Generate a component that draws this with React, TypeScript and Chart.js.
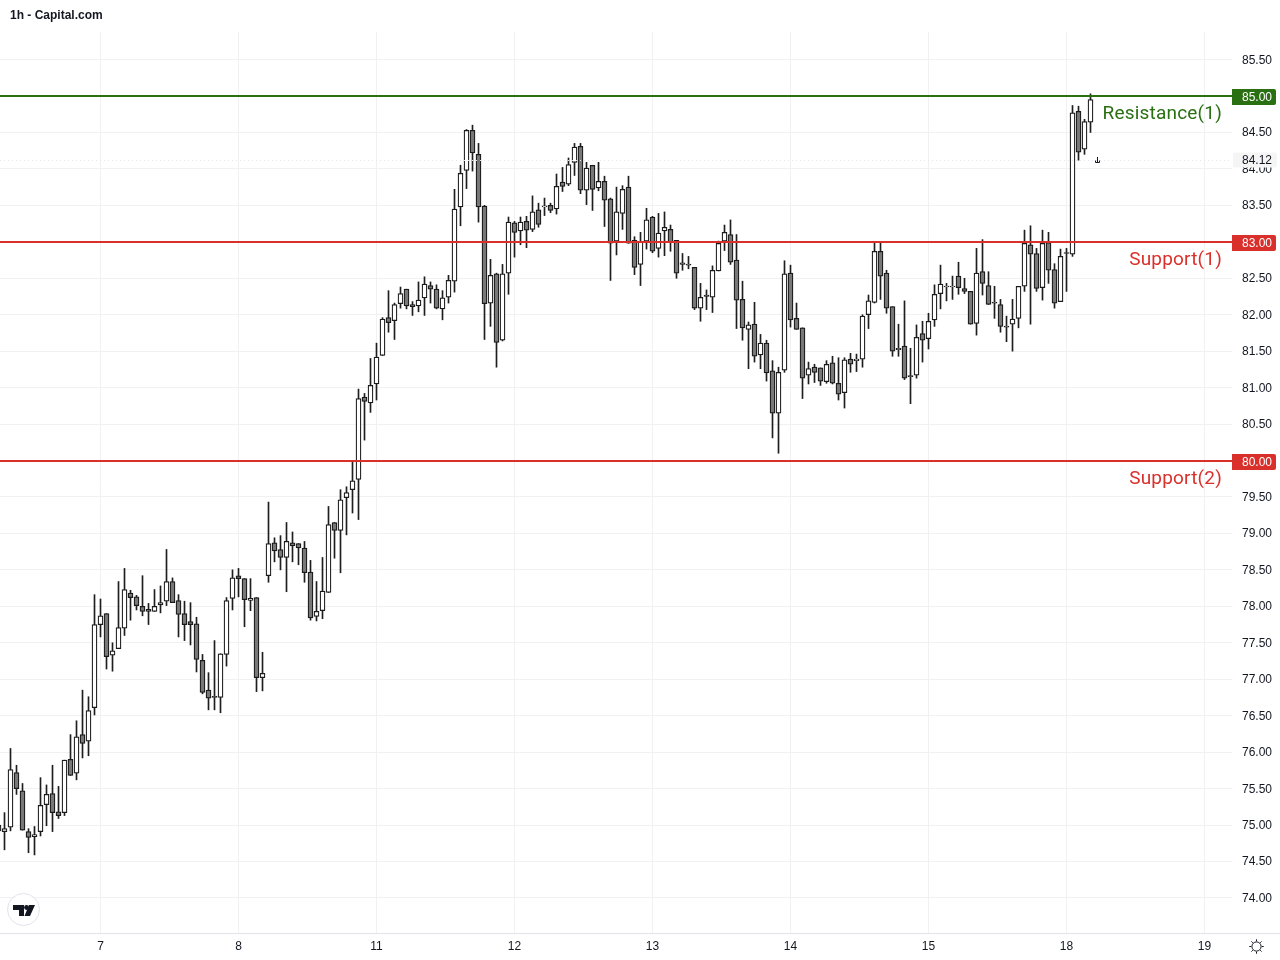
import React, { useEffect, useRef } from "react";
import { Chart, registerables } from "chart.js";

Chart.register(...registerables);

const chartTitle = "1h - Capital.com";
const firstCandle = -1;

const opens = [
  74.92,74.91,74.97,75.72,75.47,74.91,74.84,74.91,75.28,75.43,
  75.18,75.17,75.90,75.71,76.24,76.15,76.61,77.75,77.90,77.33,
  77.42,77.70,78.18,78.13,78.00,77.96,77.93,78.02,78.07,78.34,
  78.08,77.90,77.79,77.76,77.26,76.85,76.76,76.75,77.34,78.11,
  78.42,78.38,78.08,78.12,77.02,78.42,78.87,78.78,78.67,78.87,
  78.86,78.80,78.47,77.86,77.94,78.19,79.15,79.04,79.49,79.60,
  79.74,80.87,80.79,81.05,81.44,81.96,81.92,82.15,82.35,82.14,
  82.12,82.23,82.40,82.35,82.08,82.24,82.46,83.48,83.98,84.53,
  84.20,83.49,82.16,82.56,81.65,82.57,83.26,83.15,83.28,83.17,
  83.44,83.48,83.50,83.45,83.82,83.79,84.09,84.31,83.71,84.05,
  83.74,83.83,83.59,83.01,83.39,83.75,83.02,82.69,83.01,83.34,
  82.91,83.15,83.17,83.02,82.71,82.69,82.65,82.09,82.27,82.24,
  82.60,83.01,83.10,82.75,82.21,81.80,81.87,81.45,81.61,81.23,
  80.65,81.24,82.57,81.95,81.82,81.17,81.28,81.27,81.08,81.34,
  81.06,80.93,81.39,81.37,81.39,82.00,82.17,82.87,82.57,82.11,
  81.52,81.57,81.16,81.17,81.74,81.67,81.93,82.29,82.38,82.38,
  82.53,82.36,82.32,81.88,82.59,82.40,82.17,82.14,81.84,81.87,
  81.95,82.39,82.96,82.84,82.37,82.99,82.62,82.18,82.85,82.83,
  84.79,84.27,84.64,
];

const closes = [
  75.00,74.95,75.76,75.50,74.93,74.83,74.87,75.27,75.42,75.17,
  75.13,75.89,75.68,76.21,76.12,76.57,77.75,77.87,77.31,77.39,
  77.71,78.23,78.12,78.01,77.93,77.93,78.00,78.05,78.34,78.05,
  77.89,77.75,77.75,77.27,76.82,76.74,76.75,77.35,78.08,78.39,
  78.38,78.09,78.11,77.02,77.08,78.86,78.76,78.67,78.89,78.83,
  78.80,78.46,77.84,77.93,78.21,79.12,79.04,79.46,79.56,79.72,
  80.85,80.81,81.03,81.42,81.94,81.89,82.14,82.29,82.12,82.11,
  82.20,82.42,82.35,82.09,82.23,82.47,83.45,83.94,84.53,84.22,
  83.48,82.15,82.54,81.62,82.56,83.27,83.13,83.27,83.16,83.41,
  83.24,83.49,83.43,83.76,83.76,84.06,84.30,83.71,84.01,83.72,
  83.83,83.57,82.98,83.41,83.72,82.98,82.65,83.00,83.30,82.87,
  83.12,83.20,83.00,82.57,82.69,82.68,82.09,82.24,82.25,82.61,
  82.98,83.13,82.72,82.20,81.82,81.86,81.43,81.61,81.20,80.65,
  81.21,82.56,81.93,81.80,81.13,81.26,81.21,81.09,81.32,81.06,
  80.91,81.38,81.32,81.39,81.98,82.19,82.87,82.53,82.09,81.50,
  81.54,81.13,81.15,81.69,81.65,81.91,82.28,82.42,82.39,82.39,
  82.37,82.32,81.87,82.57,82.43,82.14,82.16,81.84,81.83,81.94,
  82.39,82.98,82.83,82.36,82.98,82.61,82.16,82.80,82.84,84.77,
  84.23,84.65,84.95,
];

const highs = [
  75.07,75.17,76.05,75.82,75.57,74.95,74.98,75.65,75.55,75.82,
  75.53,75.89,76.24,76.43,76.85,76.76,78.16,78.10,77.90,77.50,
  78.34,78.52,78.22,78.15,78.42,78.04,78.23,78.28,78.78,78.39,
  78.16,78.07,78.05,77.85,77.34,77.09,77.53,77.35,78.12,78.50,
  78.52,78.38,78.38,78.12,77.37,79.43,78.94,78.97,79.15,79.02,
  78.86,78.89,78.63,78.34,78.67,79.37,79.15,79.60,79.64,79.99,
  80.98,80.92,81.40,81.61,81.96,82.33,82.16,82.38,82.35,82.18,
  82.45,82.52,82.45,82.41,82.33,82.54,83.72,84.05,84.54,84.60,
  84.35,83.50,82.76,82.57,82.69,83.34,83.28,83.34,83.35,83.63,
  83.53,83.60,83.53,83.93,84.02,84.15,84.35,84.35,84.09,84.05,
  84.09,83.90,83.60,83.75,83.77,83.90,83.07,83.13,83.46,83.35,
  83.39,83.41,83.23,83.02,82.84,82.80,82.65,82.43,82.34,82.67,
  83.01,83.23,83.30,83.10,82.46,81.90,82.17,81.73,81.65,81.37,
  81.28,82.74,82.68,82.16,81.82,81.35,81.32,81.27,81.37,81.43,
  81.41,81.41,81.47,81.46,82.00,82.27,83.00,83.00,82.61,82.11,
  81.87,82.19,81.54,81.86,81.91,82.02,82.41,82.68,82.43,82.53,
  82.72,82.50,82.32,82.91,83.03,82.59,82.39,82.21,81.98,82.21,
  82.39,83.16,83.22,82.91,83.16,83.13,82.70,82.90,82.91,84.87,
  84.86,84.68,85.03,
];

const lows = [
  74.88,74.66,74.92,75.42,74.93,74.62,74.59,74.85,74.99,74.91,
  75.09,75.13,75.68,75.62,75.92,75.95,76.51,77.58,77.14,77.11,
  77.42,77.60,77.81,77.95,77.87,77.75,77.93,77.91,78.01,78.05,
  77.58,77.53,77.47,77.10,76.80,76.58,76.58,76.54,77.18,77.95,
  78.13,77.72,77.94,76.83,76.84,78.33,78.61,78.50,78.20,78.61,
  78.57,78.33,77.81,77.80,77.83,78.19,78.66,78.46,78.98,79.28,
  79.19,80.28,80.66,80.83,81.44,81.76,81.66,82.09,82.08,81.99,
  82.04,81.99,82.16,82.08,81.93,82.16,82.31,83.22,83.73,83.97,
  83.27,81.66,81.84,81.28,81.64,82.28,82.79,82.96,82.92,83.14,
  83.20,83.36,83.40,83.38,83.69,83.77,83.91,83.66,83.51,83.43,
  83.70,83.21,82.47,82.82,83.17,82.98,82.55,82.40,82.90,82.85,
  82.79,82.81,82.87,82.50,82.61,82.63,82.07,81.91,82.07,82.03,
  82.60,82.88,82.69,81.81,81.65,81.26,81.35,81.26,81.09,80.31,
  80.10,81.21,81.83,81.80,80.85,81.05,81.07,81.03,81.06,81.05,
  80.83,80.72,81.21,81.22,81.28,81.81,82.16,82.21,82.02,81.43,
  81.43,81.11,80.78,81.13,81.35,81.53,81.84,82.08,82.19,82.21,
  82.28,82.29,81.87,81.72,82.27,82.14,81.95,81.76,81.63,81.50,
  81.82,82.32,81.87,82.32,82.20,82.43,82.09,82.18,82.32,82.80,
  84.12,84.20,84.50,
];

const priceTicks = [74,74.5,75,75.5,76,76.5,77,77.5,78,78.5,79,79.5,80,80.5,81,81.5,82,82.5,83,83.5,84,84.5,85,85.5];
const dayTickCandles = [16,39,62,85,108,131,154,177,200];
const dayTickLabels = ["7","8","11","12","13","14","15","18","19"];

const levelNames = ["Resistance(1)","Support(1)","Support(2)"];
const levelValues = [85,83,80];
const levelColors = ["#2a6f12","#d9302c","#d9302c"];
const lastPrice = 84.12;

const UI_FONT = '"Liberation Sans", Arial, sans-serif';
const INK = "#131722";
const GRID = "#f1f1f2";

const overlay = {
  id: "overlay",
  afterDatasetsDraw(chart: any) {
    const { ctx, chartArea: a, scales } = chart;
    const y = scales.y;
    ctx.save();

    // price axis labels, from the scale's own ticks
    ctx.fillStyle = INK;
    ctx.font = `12px ${UI_FONT}`;
    ctx.textBaseline = "middle";
    ctx.textAlign = "left";
    y.ticks.forEach((t: any) => {
      ctx.fillText(Number(t.value).toFixed(2), 1242, Math.round(y.getPixelForValue(t.value)) + 1);
    });

    // last price dotted line
    const ly = Math.round(y.getPixelForValue(lastPrice)) + 0.5;
    ctx.strokeStyle = "#e4e6ea";
    ctx.setLineDash([1, 3]);
    ctx.lineWidth = 1;
    ctx.beginPath();
    ctx.moveTo(0, ly);
    ctx.lineTo(a.right, ly);
    ctx.stroke();
    ctx.setLineDash([]);

    // small marker after the last bar
    const mx = scales.x.getPixelForValue(182);
    ctx.strokeStyle = INK;
    ctx.beginPath();
    ctx.moveTo(Math.round(mx) + 0.5, ly - 3.5);
    ctx.lineTo(Math.round(mx) + 0.5, ly + 2);
    ctx.moveTo(Math.round(mx) - 1.5, ly);
    ctx.lineTo(Math.round(mx) - 1.5, ly + 2);
    ctx.lineTo(Math.round(mx) + 2.5, ly + 2);
    ctx.lineTo(Math.round(mx) + 2.5, ly);
    ctx.stroke();

    // level lines
    levelValues.forEach((v, i) => {
      const py = Math.round(y.getPixelForValue(v));
      ctx.fillStyle = levelColors[i];
      ctx.fillRect(0, py - 1, a.right, 2);
    });

    // last price tag
    ctx.fillStyle = "#f5f5f5";
    ctx.beginPath();
    ctx.roundRect(a.right + 1, ly - 8, 44, 15, 2);
    ctx.fill();
    ctx.fillStyle = INK;
    ctx.font = `12px ${UI_FONT}`;
    ctx.textAlign = "left";
    ctx.fillText(lastPrice.toFixed(2), 1242, ly + 0.5);

    // level tags and names
    levelValues.forEach((v, i) => {
      const py = Math.round(y.getPixelForValue(v));
      ctx.fillStyle = levelColors[i];
      ctx.beginPath();
      ctx.roundRect(a.right, py - 7, 44, 16, [0, 2, 2, 0]);
      ctx.fill();
      ctx.fillStyle = "#ffffff";
      ctx.font = `12px ${UI_FONT}`;
      ctx.textAlign = "left";
      ctx.fillText(v.toFixed(2), 1242, py + 1.5);
      ctx.fillStyle = levelColors[i];
      ctx.font = `19px Roboto, sans-serif`;
      (ctx as any).letterSpacing = "0.2px";
      ctx.textAlign = "right";
      ctx.fillText(levelNames[i], 1222, py + 18.5);
      (ctx as any).letterSpacing = "0px";
    });

    // title
    ctx.fillStyle = INK;
    ctx.font = `bold 12px ${UI_FONT}`;
    ctx.textAlign = "left";
    ctx.fillText(chartTitle, 10, 15.5);

    // bottom axis rule
    ctx.fillStyle = "#e0e3eb";
    ctx.fillRect(0, a.bottom, chart.width, 1);

    // logo badge
    ctx.fillStyle = "#ffffff";
    ctx.strokeStyle = "#e0e3eb";
    ctx.beginPath();
    ctx.arc(23.5, 909.5, 16, 0, Math.PI * 2);
    ctx.fill();
    ctx.stroke();
    ctx.fillStyle = "#131722";
    ctx.beginPath();
    ctx.moveTo(13, 905); ctx.lineTo(24, 905); ctx.lineTo(24, 916); ctx.lineTo(19, 916);
    ctx.lineTo(19, 910); ctx.lineTo(13, 910); ctx.closePath();
    ctx.moveTo(29, 905); ctx.lineTo(35, 905); ctx.lineTo(30, 916); ctx.lineTo(24.5, 916);
    ctx.closePath();
    ctx.fill();
    ctx.beginPath();
    ctx.arc(26.5, 907.5, 2.4, 0, Math.PI * 2);
    ctx.fill();

    // sun icon
    const sx = 1256.5, sy = 946.5;
    ctx.strokeStyle = INK;
    ctx.lineWidth = 1;
    ctx.beginPath();
    ctx.arc(sx, sy, 4.6, 0, Math.PI * 2);
    for (let i = 0; i < 8; i++) {
      const t = (i * Math.PI) / 4;
      ctx.moveTo(sx + Math.cos(t) * 5.2, sy + Math.sin(t) * 5.2);
      ctx.lineTo(sx + Math.cos(t) * 7.2, sy + Math.sin(t) * 7.2);
    }
    ctx.stroke();

    ctx.restore();
  },
};

export default function App() {
  const ref = useRef<HTMLCanvasElement | null>(null);
  useEffect(() => {
    document.body.style.margin = "0";
    document.body.style.background = "#ffffff";
    const candles = opens.map((_, i) => firstCandle + i);
    const chart = new Chart(ref.current as HTMLCanvasElement, {
      type: "bar",
      data: {
        datasets: [
          {
            label: "Wick",
            data: candles.map((x, i) => ({ x, y: [lows[i], highs[i]] })),
            backgroundColor: "#1e1e1e",
            barThickness: 1,
            order: 2,
          },
          {
            label: "Body",
            data: candles.map((x, i) => ({ x, y: [opens[i], closes[i]] })),
            backgroundColor: candles.map((_, i) => (closes[i] >= opens[i] ? "#ffffff" : "#787878")),
            borderColor: "#1a1a1a",
            borderWidth: 1.25,
            borderSkipped: false,
            barThickness: 5,
            minBarLength: 1,
            order: 1,
          },
        ] as any,
      },
      options: {
        responsive: false,
        animation: false,
        devicePixelRatio: 1,
        layout: { padding: { top: 32, left: 0, right: 0, bottom: 0 } },
        plugins: { legend: { display: false }, tooltip: { enabled: false } },
        datasets: { bar: { grouped: false } },
        scales: {
          x: {
            type: "linear",
            offset: false,
            min: -0.75,
            max: 204.5833,
            afterBuildTicks: (s: any) => { s.ticks = dayTickCandles.map((value) => ({ value })); },
            afterFit: (s: any) => { s.height = 27; s.paddingLeft = 0; s.paddingRight = 0; },
            grid: { color: GRID, drawTicks: false, offset: false },
            border: { display: false },
            ticks: {
              maxRotation: 0,
              autoSkip: false,
              padding: 6,
              color: INK,
              font: { family: UI_FONT, size: 12 },
              callback: (v: any) => dayTickLabels[dayTickCandles.indexOf(Number(v))] ?? "",
            },
          },
          y: {
            position: "right",
            min: 73.519,
            max: 85.878,
            afterBuildTicks: (s: any) => { s.ticks = priceTicks.map((value) => ({ value })); },
            afterFit: (s: any) => { s.width = 48; },
            grid: { color: GRID, drawTicks: false },
            border: { display: false },
            ticks: { display: false },
          },
        },
      } as any,
      plugins: [overlay],
    });
    return () => chart.destroy();
  }, []);
  return <canvas ref={ref} width={1280} height={960} style={{ display: "block" }} />;
}
